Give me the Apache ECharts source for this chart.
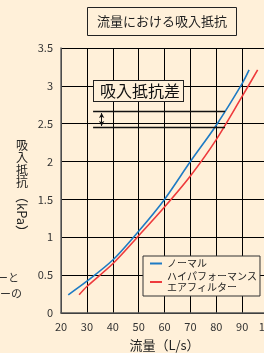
<!DOCTYPE html>
<html>
<head>
<meta charset="utf-8">
<script src="https://cdn.jsdelivr.net/npm/echarts@6/dist/echarts.min.js"></script>
<style>
html,body{margin:0;padding:0;background:#FFF0D9;}
#c{width:264px;height:353px;}
</style>
</head>
<body>
<div id="c"></div>
<script>
// ---- data ----
const titleText = '流量における吸入抵抗';
const xName = '流量（L/s）';
const yNameChars = ['吸', '入', '抵', '抗'];
const yNameUnit = '（kPa）';
const diffLabel = '吸入抵抗差';
const seriesNames = ['ノーマル', 'ハイパフォーマンス\nエアフィルター'];
const normalData = [[22.8,0.24],[30,0.42],[40,0.70],[50,1.08],[60,1.50],[70,2.00],[80,2.48],[90,3.03],[92.7,3.21]];
const hpData = [[27,0.24],[30,0.35],[40,0.65],[50,1.02],[60,1.40],[70,1.81],[80,2.29],[90,2.86],[96,3.21]];
const diffLevels = [2.66, 2.45];     // the two horizontal reference lines
const diffSpanX = [32.4, 83.4];      // their x extent
const diffArrowX = 35.7;
const xTicks = {min: 20, max: 100, interval: 10};
const yTicks = {min: 0, max: 3.5, interval: 0.5};
const cutTexts = ['ーと', 'ーの'];

const BG = '#FFF0D9';
const FONT = '"Noto Sans CJK JP", "Noto Sans", sans-serif';

const chart = echarts.init(document.getElementById('c'), null, {renderer: 'canvas'});

const gridLeft = 61, gridTop = 48, gridW = 207, gridH = 265;

const graphics = [];
// vertical y-axis name
yNameChars.forEach((ch, i) => {
  graphics.push({type: 'text', left: 16, top: 139 + i * 12.5, z: 10,
    style: {text: ch, font: '12px ' + FONT, fill: '#222'}});
});
graphics.push({type: 'text', x: 22, y: 214, rotation: -Math.PI / 2, z: 10,
  style: {text: yNameUnit, font: '13px ' + FONT, fill: '#222', align: 'center', verticalAlign: 'middle'}});
// difference label box
graphics.push({type: 'text', x: 94, y: 81, z: 20,
  style: {text: diffLabel, font: '16px ' + FONT, fill: '#111', lineHeight: 16,
    backgroundColor: BG, borderColor: '#222', borderWidth: 1, padding: [2, 3, 2, 6]}});
// cut-off texts at left edge
graphics.push({type: 'text', x: -3, y: 278, z: 10,
  style: {text: cutTexts[0], font: '11px ' + FONT, fill: '#333', verticalAlign: 'middle'}});
graphics.push({type: 'text', x: 0, y: 294, z: 10,
  style: {text: cutTexts[1], font: '11px ' + FONT, fill: '#333', verticalAlign: 'middle'}});

const option = {
  backgroundColor: BG,
  animation: false,
  title: {
    text: titleText, left: 87, top: 7,
    padding: [7, 10, 7, 10],
    borderColor: '#222', borderWidth: 1,
    backgroundColor: BG,
    textStyle: {fontFamily: FONT, fontSize: 13, fontWeight: 'normal', color: '#222', lineHeight: 15}
  },
  grid: {left: gridLeft, top: gridTop, width: gridW, height: gridH, containLabel: false, outerBoundsMode: 'none'},
  legend: {
    data: seriesNames,
    orient: 'vertical', left: 143, top: 256,
    padding: [2, 3, 3, 7], itemGap: 2,
    icon: 'rect', itemWidth: 12, itemHeight: 2,
    backgroundColor: BG, borderColor: '#333', borderWidth: 1,
    textStyle: {fontFamily: FONT, fontSize: 10, color: '#222', lineHeight: 11},
    z: 10
  },
  xAxis: {
    type: 'value', min: xTicks.min, max: xTicks.max, interval: xTicks.interval,
    name: xName, nameLocation: 'middle', nameGap: 26,
    nameTextStyle: {fontFamily: FONT, fontSize: 13, color: '#222'},
    axisLine: {show: true, lineStyle: {color: '#555', width: 1.5}},
    axisTick: {show: false},
    axisLabel: {fontFamily: FONT, fontSize: 11, color: '#333', margin: 8},
    splitLine: {show: true, lineStyle: {color: '#000', width: 1}}
  },
  yAxis: {
    type: 'value', min: yTicks.min, max: yTicks.max, interval: yTicks.interval,
    axisLine: {show: true, lineStyle: {color: '#666', width: 1.5}},
    axisTick: {show: false},
    axisLabel: {fontFamily: FONT, fontSize: 11, color: '#333', margin: 8},
    splitLine: {show: true, lineStyle: {color: '#000', width: 1}}
  },
  series: [
    {name: seriesNames[0], type: 'line', data: normalData, smooth: 0.3,
     showSymbol: false, color: '#1E7BC4', lineStyle: {width: 1.6, color: '#1E7BC4'}, z: 3,
     markLine: {
       silent: true, symbol: ['none', 'none'], label: {show: false},
       lineStyle: {color: '#111', width: 1.3, type: 'solid'},
       data: diffLevels.map(v => [{coord: [diffSpanX[0], v]}, {coord: [diffSpanX[1], v]}])
     }},
    {name: seriesNames[1], type: 'line', data: hpData, smooth: 0.3,
     showSymbol: false, color: '#EE3A3C', lineStyle: {width: 1.6, color: '#EE3A3C'}, z: 3,
     markLine: {
       silent: true, symbol: ['arrow', 'arrow'], symbolSize: [4, 5], label: {show: false},
       lineStyle: {color: '#111', width: 1, type: 'solid'},
       data: [[{coord: [diffArrowX, diffLevels[0] - 0.02]}, {coord: [diffArrowX, diffLevels[1] + 0.02]}]]
     }}
  ],
  graphic: graphics
};
chart.setOption(option);
</script>
</body>
</html>
